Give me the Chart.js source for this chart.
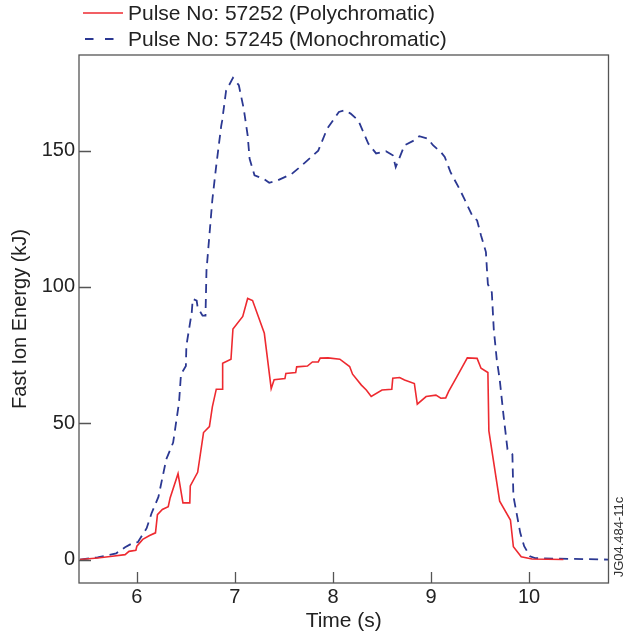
<!DOCTYPE html>
<html>
<head>
<meta charset="utf-8">
<script src="https://cdn.jsdelivr.net/npm/chart.js@4"></script>
<style>
  html, body { margin: 0; padding: 0; background: #fff; }
  #wrap { width: 627px; height: 639px; }
</style>
</head>
<body>
<div id="wrap"><canvas id="chart" width="627" height="639"></canvas></div>
<script>
// Pulse 57252, polychromatic ICRH
const polyTime = [5.42, 5.60, 5.75, 5.88, 5.92, 5.99, 6.00, 6.06, 6.13, 6.19, 6.21, 6.26, 6.32, 6.34, 6.42, 6.47,
  6.54, 6.545, 6.62, 6.64, 6.68, 6.74, 6.77, 6.81, 6.87, 6.875, 6.96, 6.98, 7.08, 7.13, 7.18, 7.30, 7.37, 7.40,
  7.51, 7.52, 7.62, 7.63, 7.74, 7.79, 7.85, 7.87, 7.95, 8.07, 8.17, 8.20, 8.29, 8.34, 8.39, 8.50, 8.60, 8.61,
  8.68, 8.73, 8.83, 8.86, 8.95, 9.05, 9.10, 9.15, 9.18, 9.26, 9.37, 9.47, 9.51, 9.58, 9.59, 9.70, 9.81, 9.84,
  9.92, 10.03, 10.35]
const polyEnergy = [0, 0.6, 1.2, 1.8, 3.0, 3.4, 4.9, 7.4, 8.8, 9.8, 16.5, 18.4, 19.4, 22.7, 31.5, 20.8,
  20.8, 27, 32, 36.8, 46.6, 48.8, 56, 62.5, 62.5, 72, 73.5, 84.6, 89.2, 95.8, 95, 83, 62.7, 66,
  66.4, 68.3, 68.6, 70.7, 71, 72.5, 72.5, 73.9, 74, 73.5, 70.8, 68, 64, 62.2, 59.8, 62.2, 62.5, 66.5,
  66.8, 65.9, 64.6, 57, 59.8, 60.3, 59.2, 59.3, 61.7, 66.8, 74, 73.8, 70.2, 68.6, 47.2, 21.4, 14.5, 4.7,
  1, 0.2, 0]

// Pulse 57245, monochromatic ICRH
const monoTime = [5.42, 5.60, 5.79, 5.88, 5.96, 6.01, 6.10, 6.15, 6.22, 6.30, 6.37, 6.43, 6.45, 6.50, 6.505,
  6.56, 6.57, 6.61, 6.62, 6.67, 6.70, 6.71, 6.77, 6.81, 6.86, 6.87, 6.91, 6.94, 6.98, 7.04, 7.09, 7.13, 7.15,
  7.20, 7.30, 7.35, 7.43, 7.58, 7.65, 7.72, 7.85, 7.94, 8.06, 8.12, 8.18, 8.26, 8.36, 8.44, 8.54, 8.61, 8.64,
  8.73, 8.83, 8.88, 8.97, 9.02, 9.10, 9.14, 9.20, 9.29, 9.34, 9.42, 9.47, 9.51, 9.56, 9.57, 9.58, 9.62, 9.64,
  9.67, 9.70, 9.74, 9.78, 9.83, 9.84, 9.91, 9.95, 10.01, 10.06, 10.81]
const monoEnergy = [0, 0.8, 2.3, 4.5, 6.1, 6.4, 11.5, 17, 23, 36.8, 42.9, 57.6, 68, 71, 78.4,
  90.7, 95.6, 95, 92.5, 89.5, 89.5, 106, 132, 144.6, 159, 161, 172, 174, 176.7, 174, 165.4, 155.6, 147,
  141, 139.5, 138.2, 139, 141.5, 143.6, 145.8, 150, 158, 164.2, 164.8, 163.6, 161, 152.6, 149, 149.8, 148.3, 144,
  152, 153.8, 155.3, 154.4, 152, 149.5, 147.7, 142, 136, 132.3, 126.2, 124.4, 118.9, 112.8, 106.6, 101, 98, 84.5,
  73.5, 66.2, 52.7, 40.4, 38.6, 23.3, 9.8, 4.9, 1.2, 0.5, 0]

const xTicks = [6, 7, 8, 9, 10]
const yTicks = [0, 50, 100, 150]
const seriesLabels = ['Pulse No: 57252 (Polychromatic)', 'Pulse No: 57245 (Monochromatic)']
const tag = 'JG04.484-11c'

const FONT = '"Liberation Sans", Arial, Helvetica, sans-serif'
const RED = '#ee2a30'
const BLUE = '#2b3892'

// frame, inward tick marks, legend and figure tag
const framePlugin = {
  id: 'frame',
  afterDraw (chart) {
    const { ctx, chartArea: a, scales: { x, y } } = chart
    ctx.save()
    ctx.strokeStyle = '#555'
    ctx.lineWidth = 1.3
    ctx.strokeRect(a.left, a.top, a.right - a.left, a.bottom - a.top)
    ctx.beginPath()
    x.ticks.forEach(t => {
      const px = Math.round(x.getPixelForValue(t.value)) + 0.5
      ctx.moveTo(px, a.bottom); ctx.lineTo(px, a.bottom - 11)
    })
    y.ticks.forEach(t => {
      const py = Math.round(y.getPixelForValue(t.value)) + 0.5
      ctx.moveTo(a.left, py); ctx.lineTo(a.left + 12, py)
    })
    ctx.stroke()

    // legend
    ctx.font = '21px ' + FONT
    ctx.fillStyle = '#222'
    ctx.textBaseline = 'middle'
    chart.data.datasets.forEach((ds, i) => {
      const ly = 13 + i * 26
      ctx.strokeStyle = ds.borderColor
      ctx.lineWidth = ds.borderWidth
      ctx.setLineDash(ds.borderDash ? [8.5, 11.5] : [])
      ctx.beginPath()
      ctx.moveTo(i ? 85 : 83, ly); ctx.lineTo(i ? 114 : 123, ly)
      ctx.stroke()
      ctx.fillText(ds.label, 128, ly + 1)
    })
    ctx.setLineDash([])

    // tag on the right
    ctx.translate(619, 537)
    ctx.rotate(-Math.PI / 2)
    ctx.font = '13px ' + FONT
    ctx.fillStyle = '#333'
    ctx.textAlign = 'center'
    ctx.fillText(tag, 0, 0)
    ctx.restore()
  }
}

const ctx = document.getElementById('chart').getContext('2d')

new Chart(ctx, {
  type: 'line',
  data: {
    datasets: [
      {
        label: seriesLabels[0],
        data: polyTime.map((t, i) => ({ x: t, y: polyEnergy[i] })),
        borderColor: RED,
        borderWidth: 1.6,
        pointRadius: 0,
        tension: 0
      },
      {
        label: seriesLabels[1],
        data: monoTime.map((t, i) => ({ x: t, y: monoEnergy[i] })),
        borderColor: BLUE,
        borderWidth: 1.8,
        borderDash: [9, 6],
        pointRadius: 0,
        tension: 0
      }
    ]
  },
  options: {
    responsive: false,
    animation: false,
    layout: { padding: { top: 55, right: 18.5, bottom: 0, left: 0 } },
    plugins: {
      legend: { display: false },
      tooltip: { enabled: false }
    },
    scales: {
      x: {
        type: 'linear',
        min: 5.41,
        max: 10.81,
        grid: { display: false, drawTicks: false },
        border: { display: false },
        afterBuildTicks: s => { s.ticks = xTicks.map(v => ({ value: v })) },
        afterFit: s => { s.height = 56 },
        ticks: { padding: 2, color: '#222', font: { family: FONT, size: 20 } },
        title: { display: true, text: 'Time (s)', color: '#222', padding: { top: 0, bottom: 5 }, font: { family: FONT, size: 21 } }
      },
      y: {
        type: 'linear',
        min: -8.6,
        max: 185.1,
        grid: { display: false, drawTicks: false },
        border: { display: false },
        afterBuildTicks: s => { s.ticks = yTicks.map(v => ({ value: v })) },
        afterFit: s => { s.width = 79 },
        ticks: { padding: 4, color: '#222', font: { family: FONT, size: 20 } },
        title: { display: true, text: 'Fast Ion Energy (kJ)', color: '#222', padding: { top: 8, bottom: 0 }, font: { family: FONT, size: 20 } }
      }
    }
  },
  plugins: [framePlugin]
})
</script>
</body>
</html>
